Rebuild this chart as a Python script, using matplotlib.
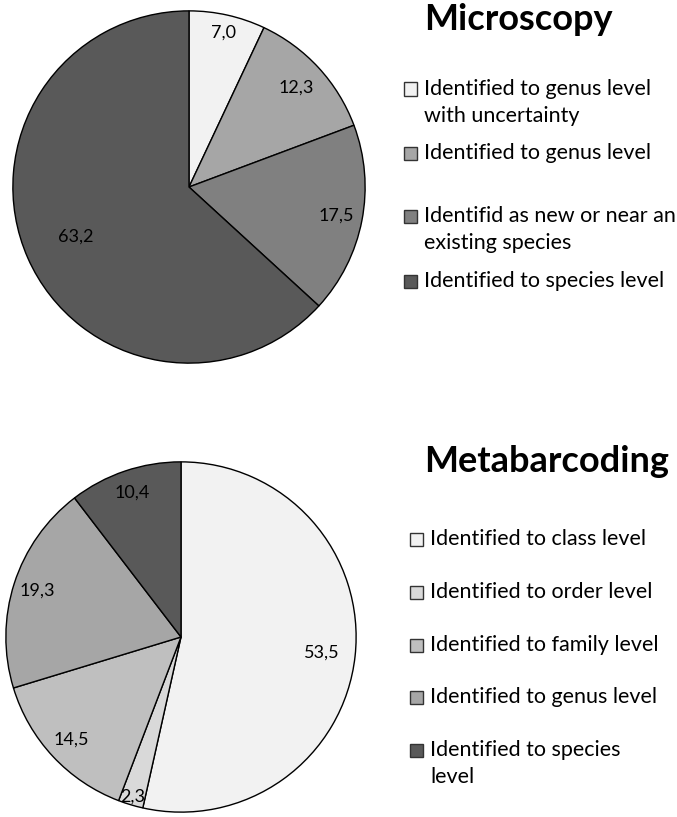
import matplotlib.pyplot as plt
import numpy as np
from matplotlib.patches import Rectangle

plt.rcParams['font.family'] = ['Lato', 'DejaVu Sans']

micro_labels = ["Identified to genus level\nwith uncertainty", "Identified to genus level",
                "Identifid as new or near an\nexisting species", "Identified to species level"]
micro_values = [7.0, 12.3, 17.5, 63.2]
micro_colors = ["#f2f2f2", "#a6a6a6", "#808080", "#595959"]

meta_labels = ["Identified to class level", "Identified to order level",
               "Identified to family level", "Identified to genus level",
               "Identified to species\nlevel"]
meta_values = [53.5, 2.3, 14.5, 19.3, 10.4]
meta_colors = ["#f2f2f2", "#d9d9d9", "#bfbfbf", "#a6a6a6", "#595959"]

W, H = 677, 817
fig = plt.figure(figsize=(W / 100, H / 100), dpi=100)


def pie_axes(cx, cy, r):
    # cx, cy, r in pixels (cy measured from top)
    ax = fig.add_axes([(cx - r) / W, (H - cy - r) / H, 2 * r / W, 2 * r / H])
    return ax


def draw_pie(ax, values, colors, dists):
    wedges, _ = ax.pie(values, colors=colors, startangle=90, counterclock=False,
                       radius=1, wedgeprops=dict(edgecolor='black', linewidth=1.0))
    ax.set_xlim(-1.005, 1.005)
    ax.set_ylim(-1.005, 1.005)
    ax.set_aspect('equal')
    ax.axis('off')
    for w, v, d in zip(wedges, values, dists):
        ang = np.deg2rad((w.theta1 + w.theta2) / 2)
        ax.text(d * np.cos(ang), d * np.sin(ang), f"{v:.1f}".replace('.', ','),
                ha='center', va='center', fontsize=13)


def draw_legend(labels, colors, ys, x):
    for lab, c, y in zip(labels, colors, ys):
        fig.patches.append(Rectangle((x / W, 1 - (y + 6.5) / H), 13 / W, 13 / H,
                                     transform=fig.transFigure, facecolor=c,
                                     edgecolor='#333333', linewidth=1.0))
        fig.text((x + 20) / W, 1 - (y - 10) / H, lab, ha='left', va='top',
                 fontsize=15.5, linespacing=1.45)


ax1 = pie_axes(189, 187, 177)
draw_pie(ax1, micro_values, micro_colors, [0.9, 0.83, 0.85, 0.7])
fig.text(424 / W, 1 - 19 / H, "Microscopy", ha='left', va='center',
         fontsize=26, fontweight='bold')
draw_legend(micro_labels, micro_colors, [89, 153, 216, 281], 404)

ax2 = pie_axes(181, 637, 176)
draw_pie(ax2, meta_values, meta_colors, [0.81, 0.95, 0.86, 0.86, 0.87])
fig.text(424 / W, 1 - 462 / H, "Metabarcoding", ha='left', va='center',
         fontsize=26, fontweight='bold')
draw_legend(meta_labels, meta_colors, [539, 592, 645, 697, 750], 410)

fig.savefig("out.png", dpi=100, facecolor='white')
